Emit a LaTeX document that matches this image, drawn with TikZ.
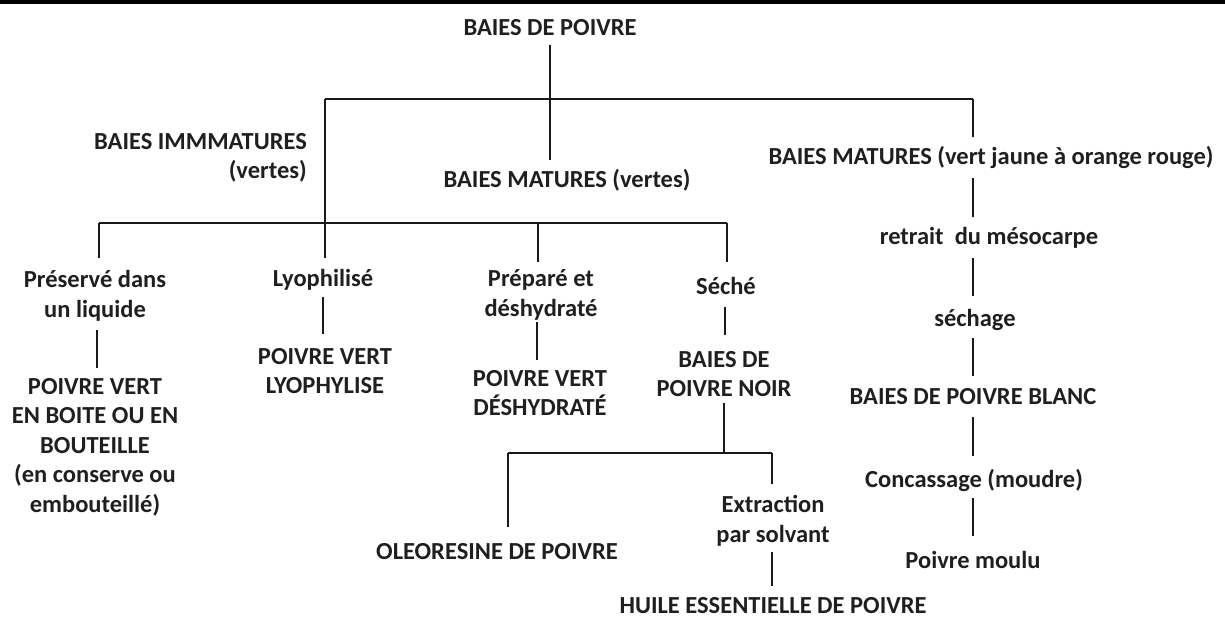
\documentclass[tikz,border=0pt]{standalone}
\usepackage{fontspec}
\setmainfont{Carlito}
\begin{document}
\begin{tikzpicture}[x=1pt,y=-1pt,
  lbl/.style={font=\fontsize{24.5}{29.5}\selectfont\bfseries, text=black!88, inner sep=0pt, align=center},
  conn/.style={draw=black!90, line width=2pt},
  bar/.style={draw=black!90, line width=2.6pt}]
\useasboundingbox (0,0) rectangle (1225,620);
\draw[line width=4pt] (0,2) -- (1225,2);
% nodes
\node[lbl] (root) at (550,28) {BAIES DE POIVRE};
\node[lbl, align=right, anchor=east] (imm) at (307,158) {BAIES IMMMATURES\\(vertes)};
\node[lbl] (matv) at (567,180) {BAIES MATURES (vertes)};
\node[lbl] (matr) at (991,157) {BAIES MATURES (vert jaune à orange rouge)};
\node[lbl] (pres) at (95,296) {Préservé dans\\un liquide};
\node[lbl] (lyo) at (323,280) {Lyophilisé};
\node[lbl] (prep) at (541,295) {Préparé et\\déshydraté};
\node[lbl] (seche) at (726,286) {Séché};
\node[lbl] (pvb) at (95,447) {POIVRE VERT\\EN BOITE OU EN\\BOUTEILLE\\(en conserve ou\\embouteillé)};
\node[lbl] (pvl) at (325,371) {POIVRE VERT\\LYOPHYLISE};
\node[lbl] (pvd) at (540,393) {POIVRE VERT\\DÉSHYDRATÉ};
\node[lbl] (bpn) at (724,374) {BAIES DE\\POIVRE NOIR};
\node[lbl] (oleo) at (497,552) {OLEORESINE DE POIVRE};
\node[lbl] (extr) at (773,521) {Extraction\\par solvant};
\node[lbl] (huile) at (773,606) {HUILE ESSENTIELLE DE POIVRE};
\node[lbl] (retrait) at (989,238) {retrait\ \ du mésocarpe};
\node[lbl] (sech) at (975,320) {séchage};
\node[lbl] (blanc) at (973,397) {BAIES DE POIVRE BLANC};
\node[lbl] (conc) at (974,480) {Concassage (moudre)};
\node[lbl] (moulu) at (973,560) {Poivre moulu};
% coordinates
\coordinate (r0) at (550,45);
\coordinate (r1) at (550,160);
\coordinate (tL) at (325,99);
\coordinate (tR) at (973,99);
\coordinate (tRe) at (973,137);
\coordinate (lyoT) at (325,258);
\coordinate (b2L) at (99,223);
\coordinate (b2P) at (538,223);
\coordinate (b2R) at (727,223);
\coordinate (presT) at (99,258);
\coordinate (prepT) at (538,262);
\coordinate (secheT) at (727,262);
\coordinate (pv1a) at (97,330); \coordinate (pv1b) at (97,368);
\coordinate (pv2a) at (323,297); \coordinate (pv2b) at (323,334);
\coordinate (pv3a) at (537,322); \coordinate (pv3b) at (537,360);
\coordinate (pv4a) at (725,307); \coordinate (pv4b) at (725,335);
\coordinate (n0) at (724,403);
\coordinate (b3M) at (724,453);
\coordinate (b3L) at (508,453);
\coordinate (b3R) at (772,453);
\coordinate (oleoT) at (508,527);
\coordinate (extrT) at (772,484);
\coordinate (h0) at (772,552); \coordinate (h1) at (772,586);
\coordinate (c1a) at (973,178); \coordinate (c1b) at (973,217);
\coordinate (c2a) at (973,258); \coordinate (c2b) at (973,296);
\coordinate (c3a) at (973,338); \coordinate (c3b) at (973,376);
\coordinate (c4a) at (973,417); \coordinate (c4b) at (973,456);
\coordinate (c5a) at (973,498); \coordinate (c5b) at (973,536);
% connectors
\draw[conn] (r0) -- (r1);
\draw[bar] (tL) -- (tR);
\draw[conn] (tL) -- (lyoT);
\draw[conn] (tR) -- (tRe);
\draw[bar] (b2L) -- (b2R);
\draw[conn] (b2L) -- (presT);
\draw[conn] (b2P) -- (prepT);
\draw[conn] (b2R) -- (secheT);
\draw[conn] (pv1a) -- (pv1b);
\draw[conn] (pv2a) -- (pv2b);
\draw[conn] (pv3a) -- (pv3b);
\draw[conn] (pv4a) -- (pv4b);
\draw[conn] (n0) -- (b3M);
\draw[bar] (b3L) -- (b3R);
\draw[conn] (b3L) -- (oleoT);
\draw[conn] (b3R) -- (extrT);
\draw[conn] (h0) -- (h1);
\draw[conn] (c1a) -- (c1b);
\draw[conn] (c2a) -- (c2b);
\draw[conn] (c3a) -- (c3b);
\draw[conn] (c4a) -- (c4b);
\draw[conn] (c5a) -- (c5b);
\end{tikzpicture}
\end{document}
